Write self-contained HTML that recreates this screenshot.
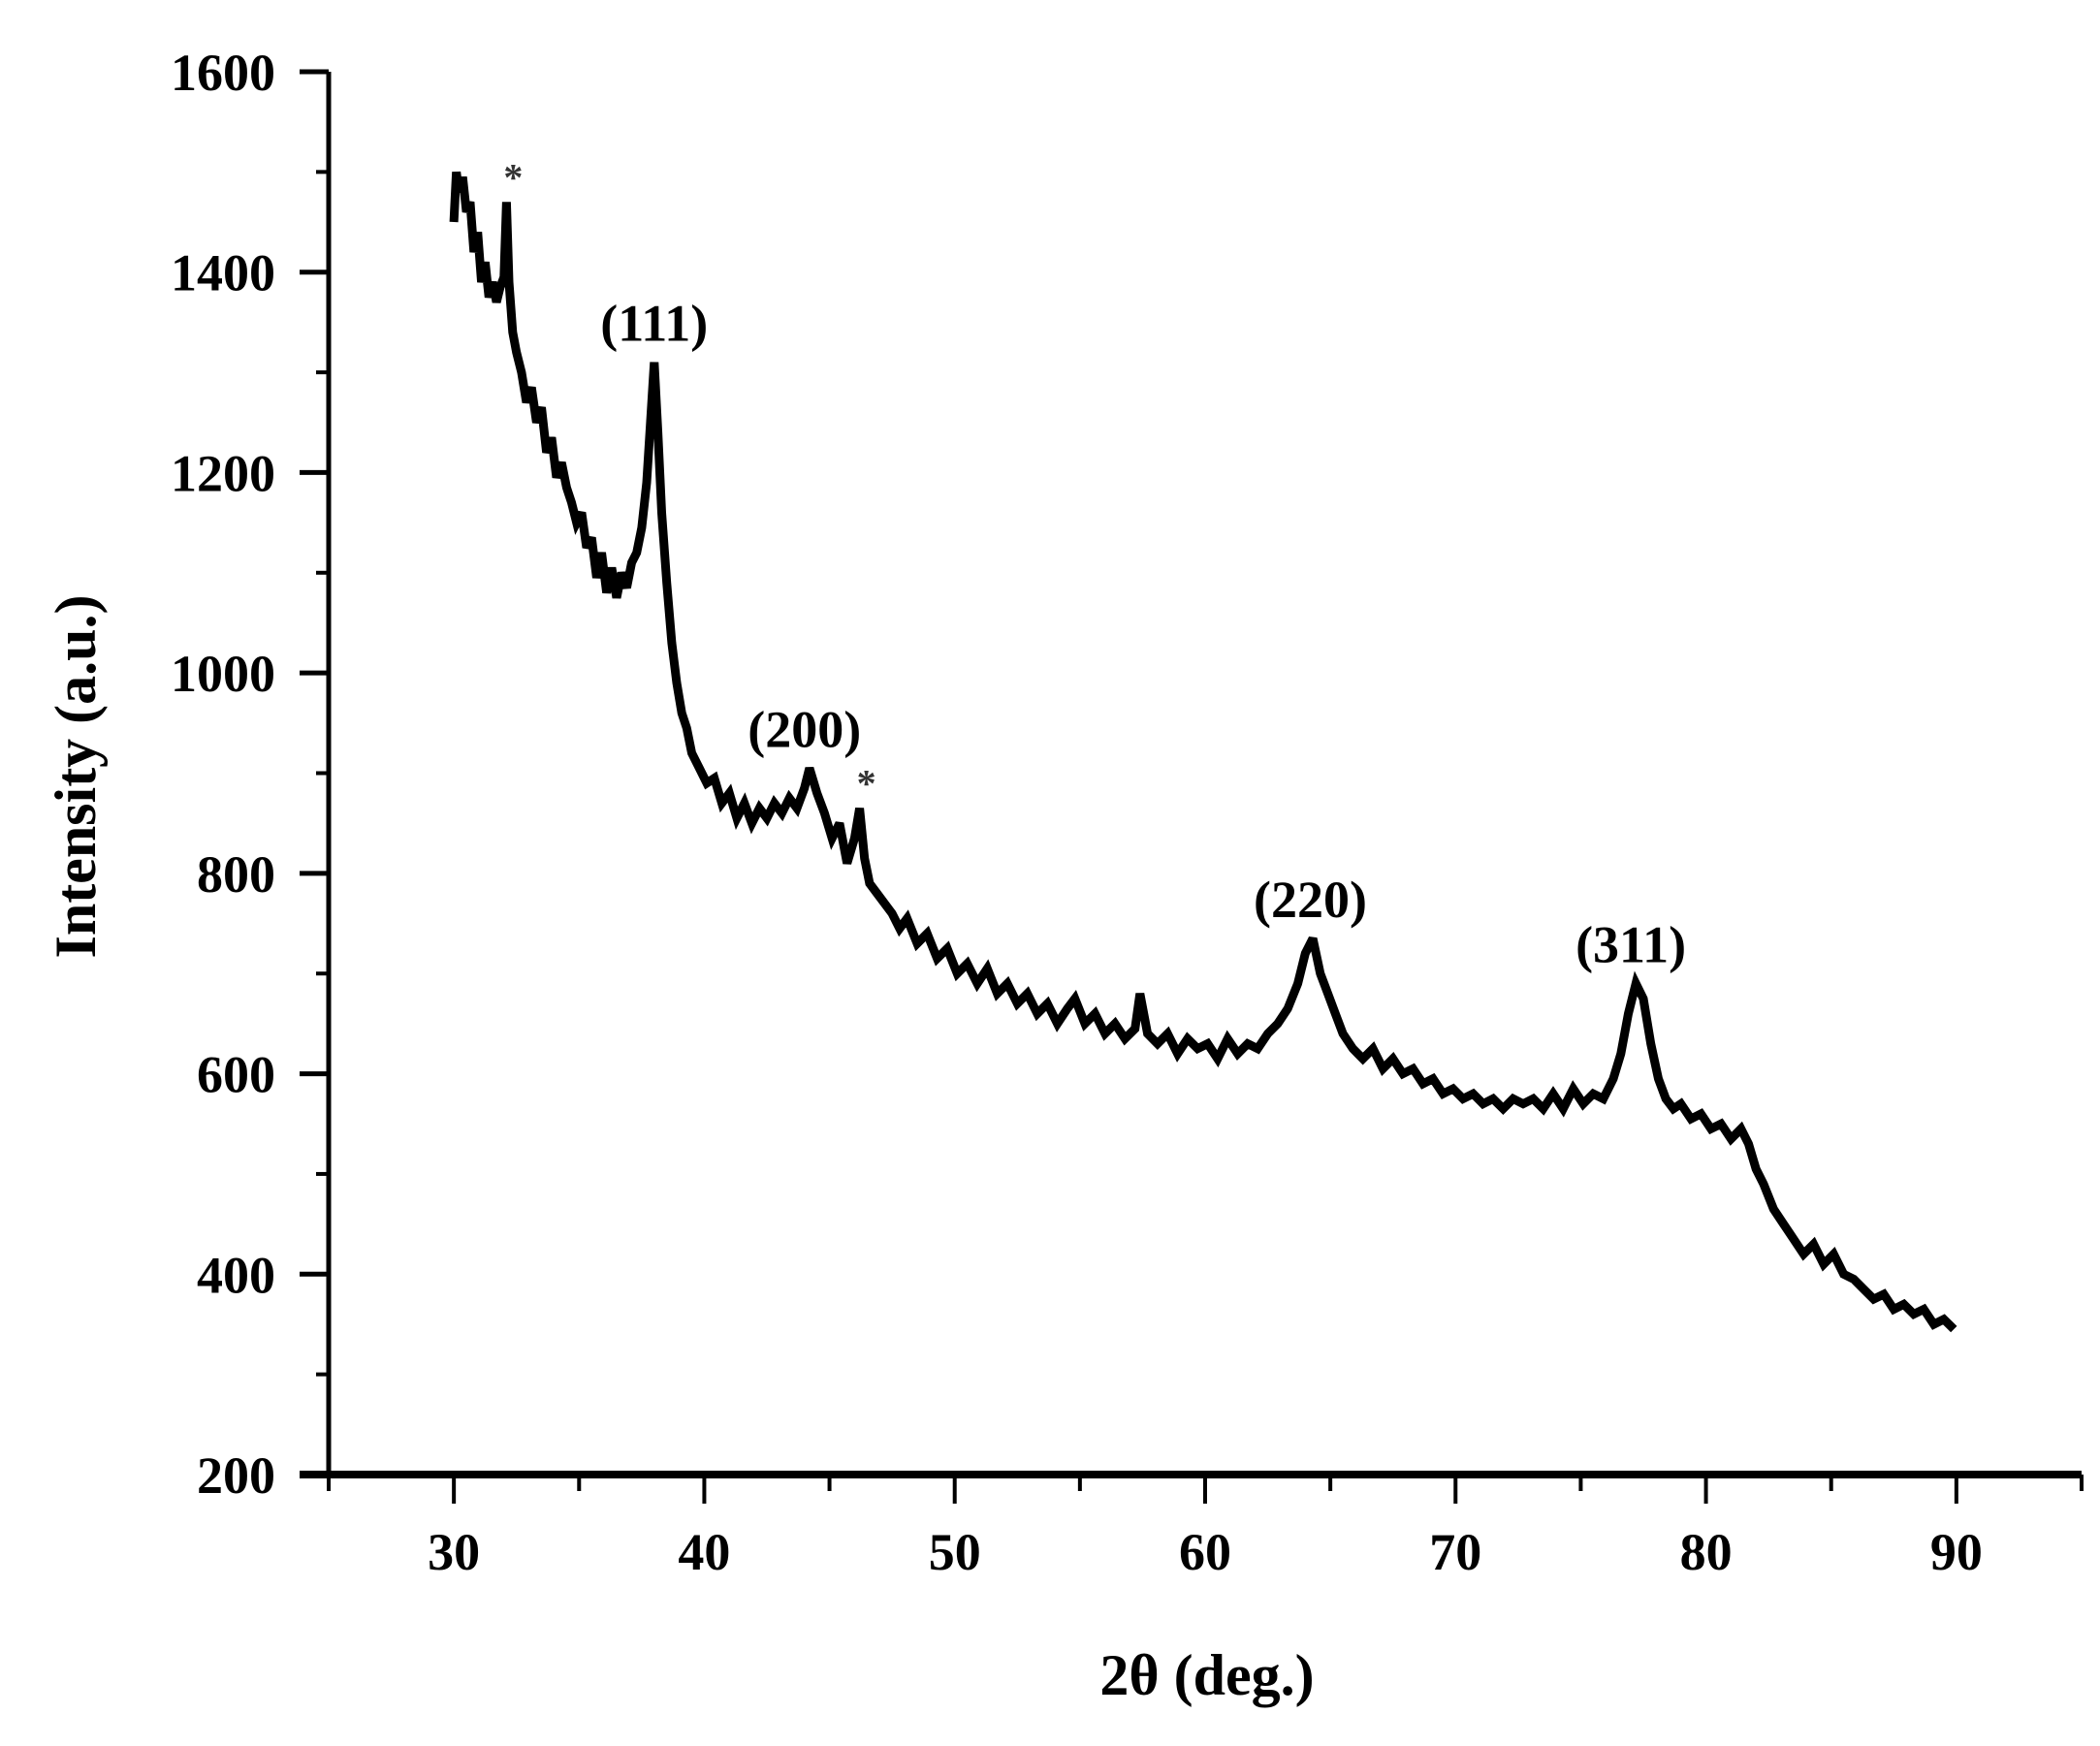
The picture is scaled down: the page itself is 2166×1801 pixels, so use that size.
<!DOCTYPE html>
<html><head><meta charset="utf-8"><style>
html,body{margin:0;padding:0;background:#fff;}
svg{display:block;font-family:"Liberation Serif",serif;font-weight:bold;}
</style></head><body>
<svg id="chart" width="2166" height="1801" viewBox="0 0 2166 1801" xmlns="http://www.w3.org/2000/svg">
<g id="axes"></g>
<g id="plot"></g>
<g id="labels"></g>
<text x="1245" y="1748" text-anchor="middle" font-size="60">2θ (deg.)</text>
<text transform="translate(98,801) rotate(-90)" text-anchor="middle" font-size="60">Intensity (a.u.)</text>
</svg>
<script>
const twoTheta = [
30.0,30.1,30.2,30.35,30.5,30.65,30.8,30.95,31.1,31.25,
31.4,31.55,31.7,31.85,32.0,32.1,32.2,32.35,32.5,32.7,
32.9,33.1,33.3,33.5,33.7,33.9,34.1,34.3,34.5,34.7,
34.9,35.1,35.3,35.5,35.7,35.9,36.1,36.3,36.5,36.7,
36.9,37.1,37.3,37.5,37.7,37.85,38.0,38.15,38.3,38.5,
38.7,38.9,39.1,39.3,39.5,39.8,40.1,40.4,40.7,41.0,
41.3,41.6,41.9,42.2,42.5,42.8,43.1,43.4,43.7,44.0,
44.2,44.5,44.8,45.1,45.4,45.7,46.0,46.2,46.4,46.6,
46.9,47.2,47.5,47.8,48.1,48.5,48.9,49.3,49.7,50.1,
50.5,50.9,51.3,51.7,52.1,52.5,52.9,53.3,53.7,54.1,
54.5,54.8,55.2,55.6,56.0,56.4,56.8,57.2,57.4,57.7,
58.1,58.5,58.9,59.3,59.7,60.1,60.5,60.9,61.3,61.7,
62.1,62.5,62.9,63.3,63.7,64.0,64.3,64.6,64.9,65.2,
65.5,65.9,66.3,66.7,67.1,67.5,67.9,68.3,68.7,69.1,
69.5,69.9,70.3,70.7,71.1,71.5,71.9,72.3,72.7,73.1,
73.5,73.9,74.3,74.7,75.1,75.5,75.9,76.3,76.6,76.9,
77.2,77.5,77.8,78.1,78.4,78.7,79.0,79.4,79.8,80.2,
80.6,81.0,81.4,81.7,82.0,82.3,82.7,83.1,83.5,83.9,
84.3,84.7,85.1,85.5,85.9,86.3,86.7,87.1,87.5,87.9,
88.3,88.7,89.1,89.5,89.9];
const intensity = [
1450,1500,1480,1495,1460,1470,1420,1440,1390,1410,
1375,1390,1370,1385,1395,1470,1390,1340,1320,1300,
1270,1285,1250,1265,1220,1235,1195,1210,1185,1170,
1150,1160,1125,1135,1095,1120,1080,1105,1075,1100,
1085,1110,1120,1145,1190,1250,1310,1240,1160,1090,
1030,990,960,945,920,905,890,895,870,880,
855,870,850,865,855,870,860,875,865,885,
905,880,860,835,850,810,835,865,815,790,
780,770,760,745,755,730,740,715,725,700,
710,690,705,680,690,670,680,660,670,650,
665,675,650,660,640,650,635,645,680,640,
630,640,620,635,625,630,615,635,620,630,
625,640,650,665,690,720,735,700,680,660,
640,625,615,625,605,615,600,605,590,595,
580,585,575,580,570,575,565,575,570,575,
565,580,565,585,570,580,575,595,620,660,
690,675,630,595,575,565,570,555,560,545,
550,535,545,530,505,490,465,450,435,420,
430,410,420,400,395,385,375,380,365,370,
360,365,350,355,345];
const xTicks = [30,40,50,60,70,80,90];
const yTicks = [200,400,600,800,1000,1200,1400,1600];
const peakNames = ["*","(111)","(200)","*","(220)","(311)"];
const peakPos = [32.1,38.0,44.0,46.2,64.2,77.0];
const peakVal = [1470,1310,905,865,735,690];

const NS="http://www.w3.org/2000/svg";
const X0=339,X1=2147,Y0=1521,Y1=74;
const xs=v=>X0+(v-25)/(95-25)*(X1-X0);
const ys=v=>Y0-(v-200)/(1600-200)*(Y0-Y1);
function mk(tag,attrs,parent){const e=document.createElementNS(NS,tag);for(const k in attrs)e.setAttribute(k,attrs[k]);parent.appendChild(e);return e;}
const axes=document.getElementById('axes');
let l=mk('line',{x1:X0,y1:Y1,x2:X0,y2:Y0+4,stroke:'#000','stroke-width':5},axes);

l=mk('line',{x1:X0-30,y1:Y0,x2:X1,y2:Y0,stroke:'#000','stroke-width':8},axes);

for(let v=25;v<=95;v+=5){
  const major=v%10===0;
  const t=mk('line',{x1:xs(v),y1:Y0,x2:xs(v),y2:Y0+(major?30:17),stroke:'#000','stroke-width':4},axes);
  
}
xTicks.forEach(v=>{const t=mk('text',{x:xs(v),y:1619,'text-anchor':'middle','font-size':54},axes);t.textContent=v;
  });
for(let v=300;v<1600;v+=200){
  const t=mk('line',{x1:X0-13,y1:ys(v),x2:X0,y2:ys(v),stroke:'#000','stroke-width':4},axes);
  
}
yTicks.forEach(v=>{
  const t=mk('line',{x1:X0-30,y1:ys(v),x2:X0,y2:ys(v),stroke:'#000','stroke-width':5},axes);
  
  const s=mk('text',{x:284,y:ys(v)+19,'text-anchor':'end','font-size':54},axes);s.textContent=v;
  
});
const plot=document.getElementById('plot');
const n=Math.min(twoTheta.length,intensity.length);
let d='';
for(let i=0;i<n;i++) d+=(i?'L':'M')+xs(twoTheta[i]).toFixed(1)+','+ys(intensity[i]).toFixed(1)+' ';
const p=mk('path',{d:d,fill:'none',stroke:'#000','stroke-width':9,'stroke-linejoin':'miter','stroke-miterlimit':3},plot);

const lab=document.getElementById('labels');
peakNames.forEach((nm,i)=>{
  const star=nm==='*';
  const t=mk('text',{x:xs(peakPos[i])+(star?7:0),y:ys(peakVal[i])-(star?12:22),'text-anchor':'middle','font-size':star?40:54,fill:star?'#333':'#000'},lab);
  t.textContent=nm;
  
});
</script>
</body></html>
